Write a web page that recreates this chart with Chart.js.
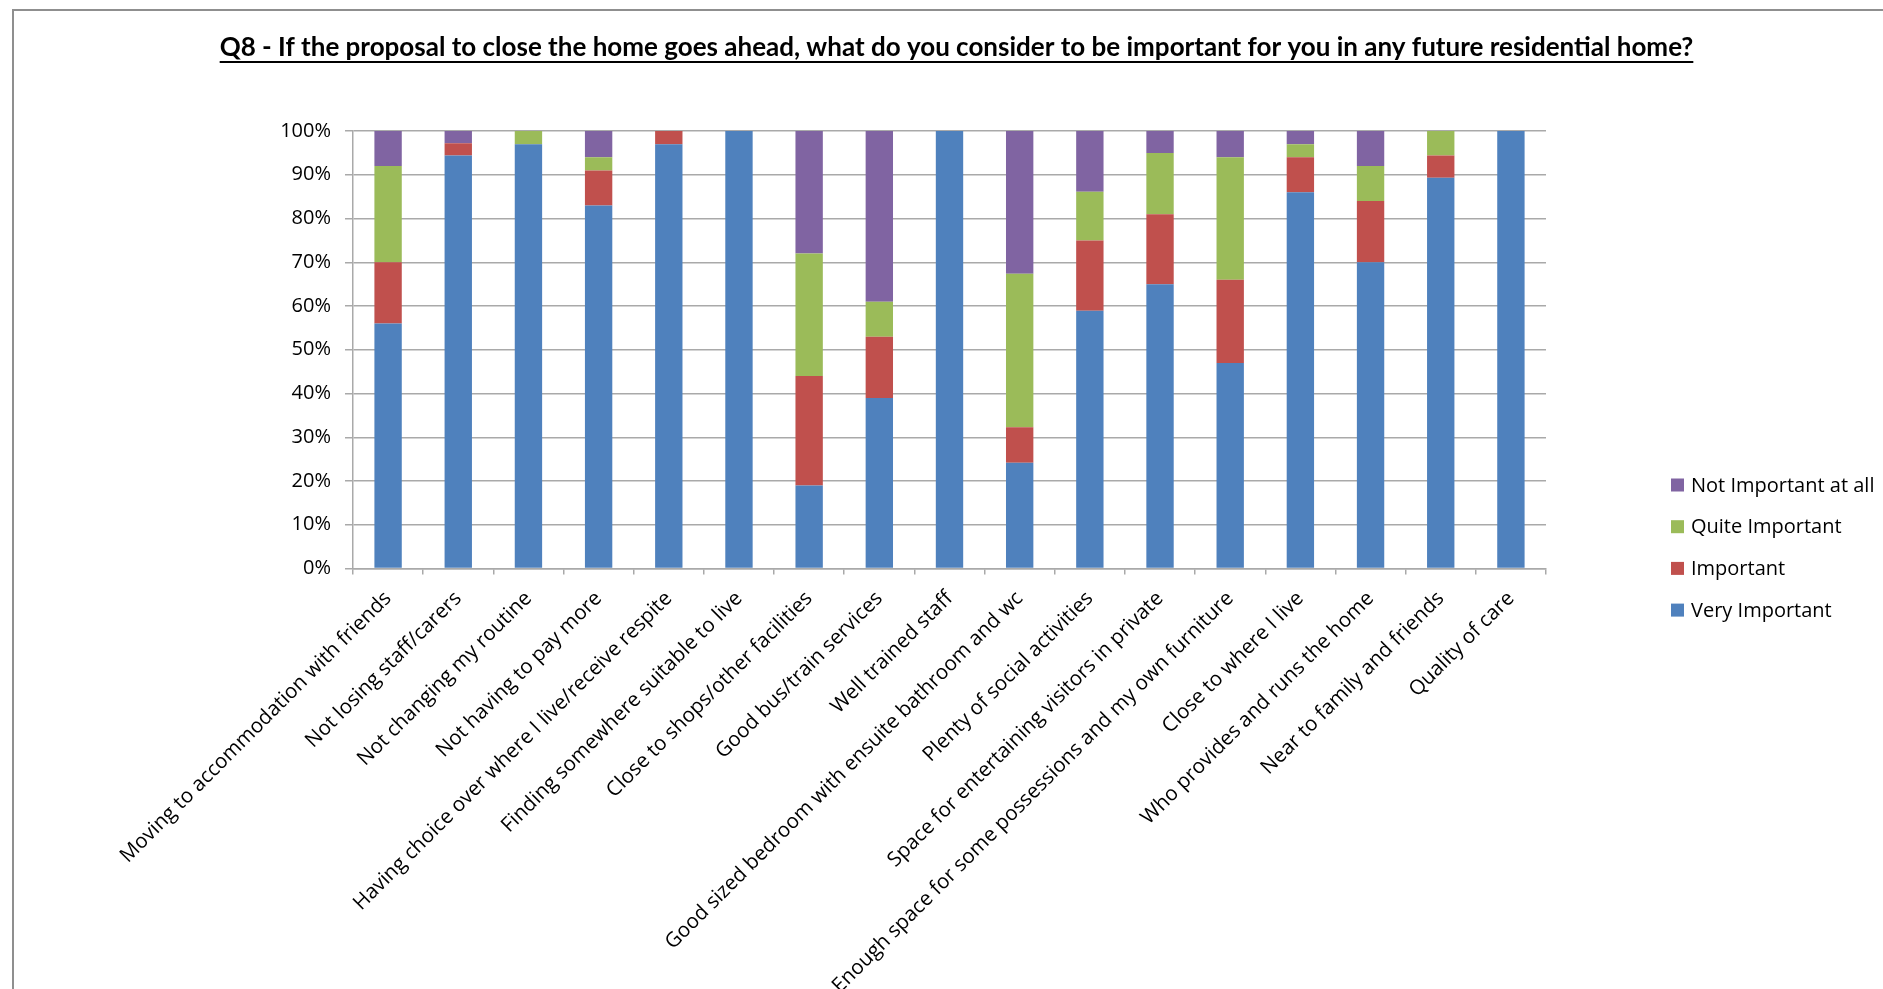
<!DOCTYPE html>
<html>
<head>
<meta charset="utf-8">
<style>
  html, body { margin: 0; padding: 0; background: #ffffff; overflow: hidden; }
  #frame {
    position: absolute; left: 12px; top: 9px; width: 1900px; height: 1000px;
    border-left: 2px solid #8f8f8f; border-top: 2px solid #8f8f8f;
  }
  #chart { position: absolute; left: 0; top: 0; }
</style>
<script src="https://cdn.jsdelivr.net/npm/chart.js@4/dist/chart.umd.min.js"></script>
</head>
<body>
<div id="frame"></div>
<canvas id="chart" width="1883" height="989"></canvas>
<script>
// Survey question and answer options
const titleText = 'Q8 - If the proposal to close the home goes ahead, what do you consider to be important for you in any future residential home?';

const categories = [
  'Moving to accommodation with friends',
  'Not losing staff/carers',
  'Not changing my routine',
  'Not having to pay more',
  'Having choice over where I live/receive respite',
  'Finding somewhere suitable to live',
  'Close to shops/other facilities',
  'Good bus/train services',
  'Well trained staff',
  'Good sized bedroom with ensuite bathroom and wc',
  'Plenty of social activities',
  'Space for entertaining visitors in private',
  'Enough space for some possessions and my own furniture',
  'Close to where I live',
  'Who provides and runs the home',
  'Near to family and friends',
  'Quality of care'
];

// Share of responses (%) per answer, one value per category
const veryImportant    = [56, 94.4, 97, 83, 97, 100, 19, 39, 100, 24.2, 58.9, 65, 47, 86, 70, 89.3, 100];
const important        = [14, 2.8, 0, 8, 3, 0, 25, 14, 0, 8.1, 16.1, 16, 19, 8, 14, 5.1, 0];
const quiteImportant   = [22, 0, 3, 3, 0, 0, 28, 8, 0, 35.1, 11.1, 14, 28, 3, 8, 5.6, 0];
const notImportantAtAll = [8, 2.8, 0, 6, 0, 0, 28, 39, 0, 32.6, 13.9, 5, 6, 3, 8, 0, 0];

const seriesNames = ['Very Important', 'Important', 'Quite Important', 'Not Important at all'];
const seriesColors = ['#4f81bd', '#c0504d', '#9bbb59', '#8064a2'];

const yTicks = [0, 10, 20, 30, 40, 50, 60, 70, 80, 90, 100];

const fontFamily = '"Open Sans", sans-serif';
const axisGray = '#a9a9a9';

// Underline beneath the chart title
const titleUnderline = {
  id: 'titleUnderline',
  afterDraw(chart) {
    const tb = chart.titleBlock;
    if (!tb) return;
    const ctx = chart.ctx;
    const opts = chart.options.plugins.title;
    const f = opts.font;
    ctx.save();
    ctx.font = `${f.weight} ${f.size}px ${f.family}`;
    const w = Math.min(ctx.measureText(titleText).width, tb.right - tb.left);
    const cx = (tb.left + tb.right) / 2;
    const y = tb.top + opts.padding.top + f.size * 1.2 / 2 + 13;
    ctx.fillStyle = '#000';
    ctx.fillRect(cx - w / 2, y, w, 2);
    ctx.restore();
  }
};

// Legend to the right of the plot, top row = top segment of the stack
const sideLegend = {
  id: 'sideLegend',
  afterDraw(chart) {
    const ctx = chart.ctx;
    const area = chart.chartArea;
    const x = area.right + 125;
    const rowGap = 41.7;
    const firstRow = area.bottom - 83.5;
    const ds = chart.data.datasets;
    ctx.save();
    ctx.font = `20px ${fontFamily}`;
    ctx.textBaseline = 'middle';
    ctx.textAlign = 'left';
    for (let i = ds.length - 1, r = 0; i >= 0; i--, r++) {
      const y = firstRow + r * rowGap;
      ctx.fillStyle = ds[i].backgroundColor;
      ctx.fillRect(x, y - 6.5, 13, 13);
      ctx.fillStyle = '#000';
      ctx.fillText(ds[i].label, x + 20, y + 1);
    }
    ctx.restore();
  }
};

const values = [veryImportant, important, quiteImportant, notImportantAtAll];

new Chart(document.getElementById('chart'), {
  type: 'bar',
  data: {
    labels: categories,
    datasets: values.map((v, i) => ({
      label: seriesNames[i],
      data: v,
      backgroundColor: seriesColors[i],
      borderWidth: 0,
      categoryPercentage: 0.39,
      barPercentage: 1
    }))
  },
  options: {
    responsive: false,
    devicePixelRatio: 1,
    animation: false,
    layout: { padding: { top: 10, left: 30, right: 0, bottom: 0 } },
    plugins: {
      legend: { display: false },
      tooltip: { enabled: false },
      title: {
        display: true,
        text: titleText,
        color: '#000',
        font: { family: 'Lato, sans-serif', size: 26, weight: 'bold' },
        padding: { top: 22.4, bottom: 67.4 }
      }
    },
    scales: {
      x: {
        stacked: true,
        grid: {
          offset: true,
          drawOnChartArea: false,
          drawTicks: true,
          tickLength: 6,
          color: axisGray,
          lineWidth: 1.5
        },
        border: { display: true, color: axisGray, width: 1.5 },
        ticks: {
          autoSkip: false,
          minRotation: 45,
          maxRotation: 45,
          color: '#000',
          font: { family: fontFamily, size: 20.5 },
          padding: 12
        },
        afterFit(scale) { scale.height = 420.5; }
      },
      y: {
        stacked: true,
        min: 0,
        max: 100,
        afterBuildTicks(scale) { scale.ticks = yTicks.map(v => ({ value: v })); },
        grid: {
          drawTicks: true,
          tickLength: 8,
          color: axisGray,
          lineWidth: 1.5
        },
        border: { display: true, color: axisGray, width: 1.5 },
        ticks: {
          color: '#000',
          font: { family: fontFamily, size: 20 },
          padding: 14,
          callback: v => v + '%'
        },
        afterFit(scale) { scale.width = 323; }
      },
      // empty right-hand band that leaves room for the legend
      legendSpace: {
        type: 'linear',
        position: 'right',
        display: true,
        grid: { display: false },
        border: { display: false },
        ticks: { display: false },
        afterFit(scale) { scale.width = 337; }
      }
    }
  },
  plugins: [titleUnderline, sideLegend]
});
</script>
</body>
</html>
